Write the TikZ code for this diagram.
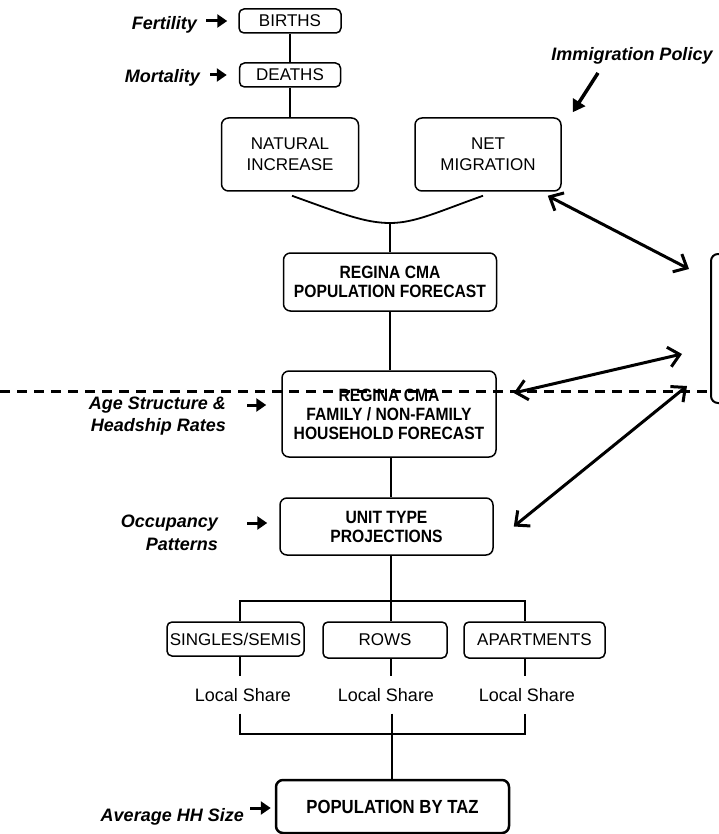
\documentclass[tikz,border=0pt]{standalone}
\usepackage{fontspec}
\setmainfont{Liberation Sans}
\newfontfamily\narrowfont[FakeStretch=0.88]{Liberation Sans}
\usetikzlibrary{arrows.meta,calc}
\begin{document}
\begin{tikzpicture}[x=1pt,y=-1pt,
  box/.style={draw, line width=1.5pt, rounded corners=7pt, inner sep=0pt, align=center},
  smallbox/.style={box, rounded corners=5pt},
  reg/.style={font=\fontsize{17}{21}\selectfont},
  regs/.style={font=\fontsize{17}{20}\selectfont},
  bold/.style={font=\narrowfont\fontsize{17.8}{19}\selectfont\bfseries},
  lab/.style={font=\fontsize{18}{22.5}\selectfont\bfseries\itshape, inner sep=0pt},
  share/.style={font=\fontsize{18}{21}\selectfont, inner sep=0pt, minimum height=37pt},
  conn/.style={line width=1.8pt},
  inarrow/.style={line width=3pt, -{Triangle[length=10pt,width=13pt]}},
  dbl/.style={line width=3pt, {Straight Barb[length=11pt,width=20pt]}-{Straight Barb[length=11pt,width=20pt]}},
  sep/.style={line width=3pt, dash pattern=on 10pt off 7pt}
]
\useasboundingbox (0,0) rectangle (719,834);

% boxes
\node[smallbox, reg, minimum width=102pt, minimum height=24pt] (births) at (290,21) {BIRTHS};
\node[smallbox, reg, minimum width=101pt, minimum height=24pt] (deaths) at (290,75) {DEATHS};
\node[box, reg, minimum width=137pt, minimum height=73pt] (nat) at (290,154.5) {NATURAL\\INCREASE};
\node[box, reg, minimum width=146pt, minimum height=73pt] (mig) at (488,154.5) {NET\\MIGRATION};
\node[box, bold, minimum width=213pt, minimum height=58pt] (pop) at (390,282) {REGINA CMA\\POPULATION FORECAST};
\node[box, bold, minimum width=214pt, minimum height=86pt] (fam) at (389,414) {REGINA CMA\\FAMILY / NON-FAMILY\\HOUSEHOLD FORECAST};
\node[box, bold, minimum width=213pt, minimum height=57pt] (unit) at (386.5,526.5) {UNIT TYPE\\PROJECTIONS};
\node[smallbox, regs, minimum width=137pt, minimum height=34pt] (sing) at (235.5,639) {SINGLES/SEMIS};
\node[smallbox, regs, minimum width=124pt, minimum height=36pt] (rows) at (385,640) {ROWS};
\node[smallbox, regs, minimum width=141pt, minimum height=36pt] (apt) at (534.5,640) {APARTMENTS};
\node[box, line width=2.5pt, font=\narrowfont\fontsize{19}{20}\selectfont\bfseries, minimum width=233pt, minimum height=53pt] (taz) at (392.5,806.5) {POPULATION BY TAZ};
\node[box, line width=2pt, minimum width=60pt, minimum height=149pt] (model) at (741,328.5) {};

% local share
\node[share] (ls1) at (243,695) {Local Share};
\node[share] (ls2) at (386,695) {Local Share};
\node[share] (ls3) at (527,695) {Local Share};

% labels
\node[lab, anchor=base east] (fert) at (197,30) {Fertility};
\node[lab, anchor=base east] (mort) at (200,83) {Mortality};
\node[lab, anchor=base] (imm) at (632,61) {Immigration Policy};
\node[lab, anchor=east, align=right] (age) at (226,416) {Age Structure \&\\Headship Rates};
\node[lab, anchor=east, align=right] (occ) at (218,533) {Occupancy\\Patterns};
\node[lab, anchor=base east] (hh) at (244,821) {Average HH Size};

% input arrows
\coordinate (agey) at (0,405);
\coordinate (occy) at (0,523);
\coordinate (hhy) at (0,808);
\draw[inarrow, shorten <=9pt, shorten >=11pt] (fert.east |- births.west) -- (births.west);
\draw[inarrow, shorten <=10pt, shorten >=12pt] (mort.east |- deaths.west) -- (deaths.west);
\draw[inarrow, shorten <=21pt, shorten >=15pt] (age.east |- agey) -- (fam.west |- agey);
\draw[inarrow, shorten <=29pt, shorten >=12pt] (occ.east |- occy) -- (unit.west |- occy);
\draw[inarrow, shorten <=6pt, shorten >=4pt] (hh.east |- hhy) -- (taz.west |- hhy);
\draw[line width=3.5pt, -{Triangle[length=12pt,width=14pt]}] ($(imm.south)+(-34,8)$) -- ($(mig.north east)+(11,-5)$);

% top chain
\draw[conn] (births.south) -- (births.south |- deaths.north);
\draw[conn] (deaths.south) -- (deaths.south |- nat.north);
\coordinate (junc) at (390,223);
\draw[conn] ($(nat.south)+(2,4)$) .. controls +(50,18) and +(-25,0) .. (junc) .. controls +(25,0) and +(-45,16) .. ($(mig.south)+(-5,4)$);
\draw[conn] (junc) -- (junc |- pop.north);
\draw[conn] (pop.south) -- (pop.south |- fam.north);

% tree
\coordinate (split) at (391,601);
\coordinate (bl) at (240,601);
\coordinate (br) at (525,601);
\draw[conn] (split |- fam.south) -- (split |- unit.north);
\draw[conn] (split |- unit.south) -- (split);
\draw[conn] (bl |- sing.north) -- (bl) -- (br) -- (br |- apt.north);
\draw[conn] (split) -- (split |- rows.north);
\draw[conn] (bl |- sing.south) -- (bl |- ls1.north);
\draw[conn] (split |- rows.south) -- (split |- ls2.north);
\draw[conn] (br |- apt.south) -- (br |- ls3.north);
\coordinate (bl2) at (240,734);
\coordinate (br2) at (525,734);
\coordinate (merge) at (392,734);
\draw[conn] (bl2 |- ls1.south) -- (bl2) -- (br2) -- (br2 |- ls3.south);
\draw[conn] (merge |- ls2.south) -- (merge |- taz.north);

% double arrows
\draw[dbl] ($(mig.south east)+(-14,4)$) -- ($(model.north west)+(-21,16)$);
\draw[dbl] ($(fam.east)+(17,-21)$) -- ($(model.west)+(-28,25.5)$);
\draw[dbl] ($(unit.east)+(20,0)$) -- ($(model.south west)+(-23,-18)$);

% dashed separator
\coordinate (dl) at (0,391);
\draw[sep] (dl) -- (dl -| model.west);
\end{tikzpicture}
\end{document}
